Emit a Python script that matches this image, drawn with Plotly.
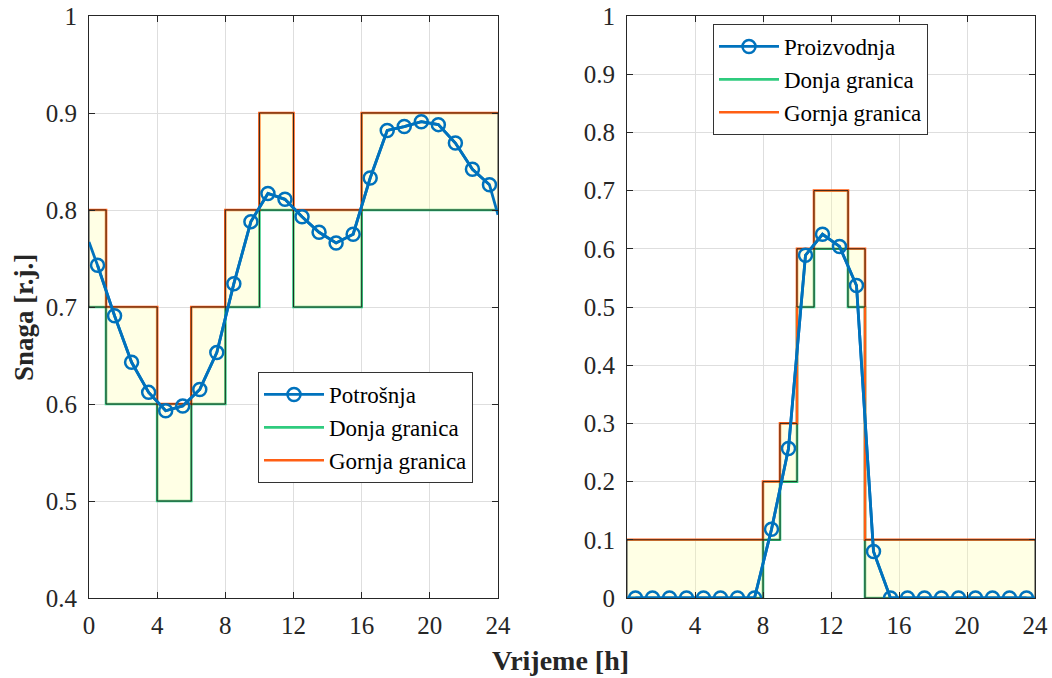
import plotly.graph_objects as go

# ---------------- data ----------------
hours = [0.5 + i for i in range(24)]

# Left panel: consumption (Potrošnja)
potrosnja = [0.743, 0.691, 0.643, 0.612, 0.593, 0.598, 0.615, 0.653,
             0.724, 0.788, 0.817, 0.811, 0.793, 0.777, 0.766, 0.775,
             0.833, 0.882, 0.886, 0.891, 0.888, 0.869, 0.842, 0.826]
potrosnja_start = 0.767   # value of the curve at t = 0
potrosnja_end = 0.795     # value of the curve at t = 24
left_breaks = [0, 1, 4, 6, 8, 10, 12, 16, 24]
left_lower = [0.7, 0.6, 0.5, 0.6, 0.7, 0.8, 0.7, 0.8]
left_upper = [0.8, 0.7, 0.6, 0.7, 0.8, 0.9, 0.8, 0.9]

# Right panel: production (Proizvodnja)
proizvodnja = [0, 0, 0, 0, 0, 0, 0, 0,
               0.118, 0.257, 0.589, 0.625, 0.604, 0.537, 0.080, 0,
               0, 0, 0, 0, 0, 0, 0, 0]
proizvodnja_start = 0.0
proizvodnja_end = 0.0
right_breaks = [0, 8, 9, 10, 11, 13, 14, 24]
right_lower = [0.0, 0.1, 0.2, 0.5, 0.6, 0.5, 0.0]
right_upper = [0.1, 0.2, 0.3, 0.6, 0.7, 0.6, 0.1]

x_ticks = [0, 4, 8, 12, 16, 20, 24]
left_yticks = [0.4, 0.5, 0.6, 0.7, 0.8, 0.9, 1.0]
right_yticks = [0.0, 0.1, 0.2, 0.3, 0.4, 0.5, 0.6, 0.7, 0.8, 0.9, 1.0]

# ---------------- styles ----------------
BLUE = "#0072BD"
GREEN = "#2FCB7E"
ORANGE = "#FF5F14"
FILL = "rgba(255,255,160,0.28)"
FONT = "Liberation Serif"

fig = go.Figure()


def add_panel(xa, ya, breaks, lower, upper, series, s0, s1, name, legend):
    xs = list(breaks)
    lo = list(lower) + [lower[-1]]
    hi = list(upper) + [upper[-1]]
    fig.add_trace(go.Scatter(x=xs, y=lo, mode="lines", line=dict(color=GREEN, width=2.6, shape="hv"),
                             name="Donja granica", legend=legend, xaxis=xa, yaxis=ya, legendrank=2))
    fig.add_trace(go.Scatter(x=xs, y=hi, mode="lines", line=dict(color=ORANGE, width=2.6, shape="hv"),
                             name="Gornja granica", legend=legend, xaxis=xa, yaxis=ya, legendrank=3))
    fx, fy = [], []
    for i in range(len(lower)):
        a, b = breaks[i], breaks[i + 1]
        fx += [a, b, b, a, a, None]
        fy += [lower[i], lower[i], upper[i], upper[i], lower[i], None]
    fig.add_trace(go.Scatter(x=fx, y=fy, mode="lines", fill="toself", fillcolor=FILL,
                             line=dict(color="rgba(20,20,20,0.85)", width=1),
                             showlegend=False, hoverinfo="skip", xaxis=xa, yaxis=ya))
    fig.add_trace(go.Scatter(x=[0] + hours + [24], y=[s0] + series + [s1], mode="lines",
                             line=dict(color=BLUE, width=2.8), showlegend=False,
                             xaxis=xa, yaxis=ya))
    fig.add_trace(go.Scatter(x=hours, y=series, mode="lines+markers",
                             line=dict(color=BLUE, width=2.8),
                             marker=dict(symbol="circle-open", size=13, color=BLUE,
                                         line=dict(width=2.5, color=BLUE)),
                             name=name, legend=legend, xaxis=xa, yaxis=ya, legendrank=1))


add_panel("x", "y", left_breaks, left_lower, left_upper, potrosnja,
          potrosnja_start, potrosnja_end, "Potrošnja", "legend")
add_panel("x2", "y2", right_breaks, right_lower, right_upper, proizvodnja,
          proizvodnja_start, proizvodnja_end, "Proizvodnja", "legend2")

axis_common = dict(showline=True, linecolor="#262626", linewidth=1.2, mirror="allticks",
                   ticks="inside", ticklen=6, tickwidth=1.4, tickcolor="#262626",
                   showgrid=True, gridcolor="#DEDEDE", gridwidth=1, zeroline=False,
                   automargin=False,
                   tickfont=dict(family=FONT, size=25, color="#262626"))

ydom = [1 - 598 / 678, 1 - 16 / 678]
legend_common = dict(xanchor="left", yanchor="top", bgcolor="white", bordercolor="#333333",
                     borderwidth=1, font=dict(family=FONT, size=23, color="#000000"),
                     tracegroupgap=0, itemwidth=60)
fig.update_layout(
    width=1052, height=678, margin=dict(l=0, r=0, t=0, b=0, autoexpand=False),
    paper_bgcolor="white", plot_bgcolor="white",
    font=dict(family=FONT, color="#262626"),
    xaxis=dict(domain=[89 / 1052, 498 / 1052], range=[0, 24], tickvals=x_ticks,
               anchor="y", ticklabelstandoff=5, **axis_common),
    yaxis=dict(domain=ydom, range=[0.4, 1.0], tickvals=left_yticks, anchor="x",
               ticklabelstandoff=6, **axis_common),
    xaxis2=dict(domain=[627 / 1052, 1035 / 1052], range=[0, 24], tickvals=x_ticks,
                anchor="y2", ticklabelstandoff=5, **axis_common),
    yaxis2=dict(domain=ydom, range=[0, 1.0], tickvals=right_yticks, anchor="x2",
                ticklabelstandoff=6, **axis_common),
    legend=dict(x=258 / 1052, y=1 - 372 / 678, **legend_common),
    legend2=dict(x=713 / 1052, y=1 - 24 / 678, **legend_common),
    annotations=[
        dict(text="<b>Vrijeme [h]</b>", x=560 / 1052, y=1 - 660 / 678, xref="paper", yref="paper",
             showarrow=False, font=dict(family=FONT, size=28, color="#262626"),
             xanchor="center", yanchor="middle"),
        dict(text="<b>Snaga [r.j.]</b>", x=24 / 1052, y=1 - 318 / 678, xref="paper", yref="paper",
             showarrow=False, textangle=-90, font=dict(family=FONT, size=27, color="#262626"),
             xanchor="center", yanchor="middle"),
    ],
)

fig.write_html("out.html")
